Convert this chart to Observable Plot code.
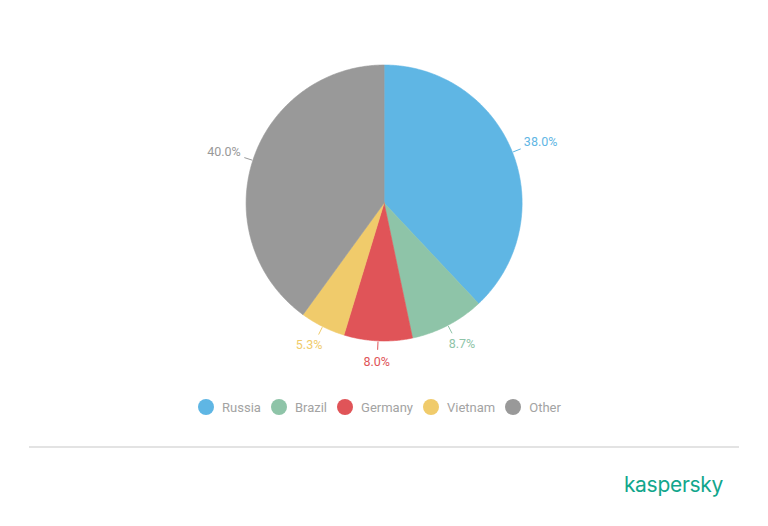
<!DOCTYPE html>
<html>
<head>
<meta charset="utf-8">
<script src="https://cdn.jsdelivr.net/npm/d3@7"></script>
<script src="https://cdn.jsdelivr.net/npm/@observablehq/plot@0.6"></script>
<style>
  html, body { margin: 0; padding: 0; background: #fff; width: 768px; height: 526px; overflow: hidden; }
  #wrap { position: relative; width: 768px; height: 526px; font-family: Roboto, sans-serif; }
  #chart { position: absolute; left: 0; top: 0; }
  #legend { position: absolute; left: 0; top: 396px; width: 768px; height: 22px; display: flex; justify-content: center; align-items: center; padding-right: 9px; box-sizing: border-box; }
  .item { display: flex; align-items: center; margin: 0 5px; }
  .sw { width: 16px; height: 16px; border-radius: 50%; margin-right: 8px; }
  .lt { font-size: 13px; color: #a3a3a3; }
  #sep { position: absolute; left: 29px; top: 446px; width: 710px; height: 0; border-top: 2px solid #e3e3e3; }
  #logo { position: absolute; right: 45px; top: 472px; font-family: Inter, sans-serif; font-size: 21px; font-weight: 400; color: #12a68c; letter-spacing: -0.3px; }
</style>
</head>
<body>
<div id="wrap">
  <div id="chart"></div>
  <div id="legend"></div>
  <div id="sep"></div>
  <div id="logo">kaspersky</div>
</div>
<script>
const categories = ["Russia", "Brazil", "Germany", "Vietnam", "Other"];
const shares = [38.0, 8.7, 8.0, 5.3, 40.0];
const colors = ["#5fb6e4", "#8ec4a8", "#e05458", "#f0cb6b", "#999999"];

const total = d3.sum(shares);
let acc = 0;
const slices = categories.map((name, i) => {
  const a0 = acc / total * 2 * Math.PI;
  acc += shares[i];
  const a1 = acc / total * 2 * Math.PI;
  const mid = (a0 + a1) / 2;
  return {name, value: shares[i], label: shares[i].toFixed(1) + "%", a0, a1, mid};
});

// slice outlines (center -> arc -> center), angles measured clockwise from top
const pts = [];
for (const s of slices) {
  pts.push({name: s.name, x: 0, y: 0});
  const n = Math.max(2, Math.ceil((s.a1 - s.a0) / (Math.PI / 360)));
  for (let k = 0; k <= n; k++) {
    const a = s.a0 + (s.a1 - s.a0) * k / n;
    pts.push({name: s.name, x: Math.sin(a), y: Math.cos(a)});
  }
  pts.push({name: s.name, x: 0, y: 0});
}

const H = 380;
const chart = Plot.plot({
  width: 768,
  height: H,
  marginLeft: 245.6,
  marginRight: 768 - 521.6,
  marginTop: 64.5,
  marginBottom: H - 340.5,
  x: {domain: [-1, 1], axis: null},
  y: {domain: [-1, 1], axis: null},
  color: {domain: categories, range: colors},
  style: {fontFamily: "Roboto, sans-serif", background: "white"},
  marks: [
    Plot.line(pts, {x: "x", y: "y", z: "name", fill: "name", stroke: "name", strokeWidth: 0.6, curve: "linear"}),
    Plot.link(slices, {
      x1: d => 1.005 * Math.sin(d.mid), y1: d => 1.005 * Math.cos(d.mid),
      x2: d => 1.065 * Math.sin(d.mid), y2: d => 1.065 * Math.cos(d.mid),
      stroke: "name", strokeWidth: 1
    }),
    Plot.text(slices, {
      x: d => 1.22 * Math.sin(d.mid),
      y: d => (Math.cos(d.mid) > 0 ? 1.2 : 1.15) * Math.cos(d.mid),
      text: "label", fill: "name", fontSize: 12.5, textAnchor: "middle", lineAnchor: "middle"
    })
  ]
});
document.getElementById("chart").appendChild(chart);

const legend = document.getElementById("legend");
categories.forEach((c, i) => {
  const it = document.createElement("div");
  it.className = "item";
  const sw = document.createElement("div");
  sw.className = "sw";
  sw.style.background = colors[i];
  const t = document.createElement("span");
  t.className = "lt";
  t.textContent = c;
  it.appendChild(sw);
  it.appendChild(t);
  legend.appendChild(it);
});
</script>
</body>
</html>
